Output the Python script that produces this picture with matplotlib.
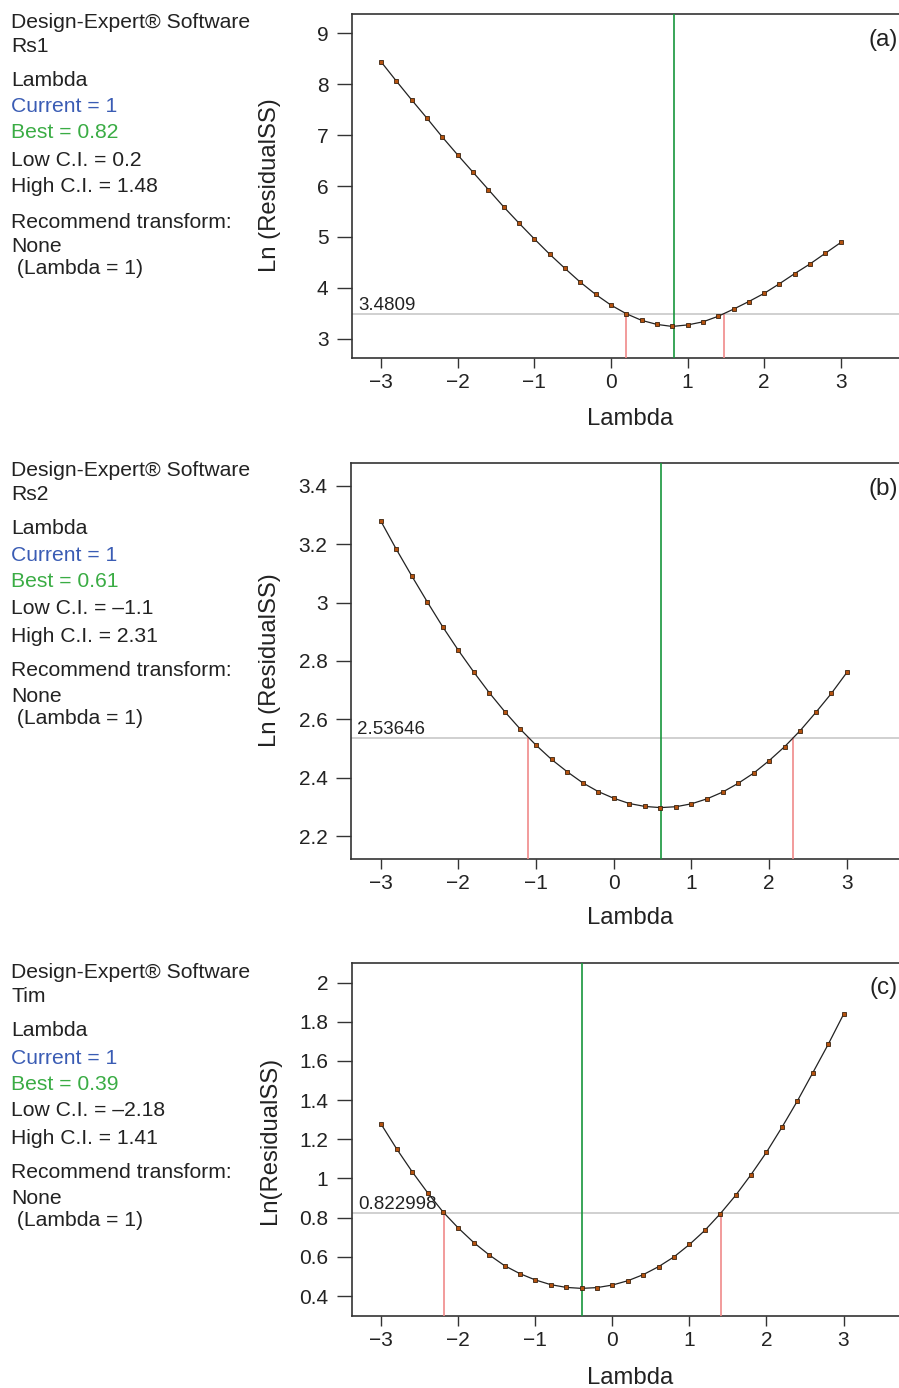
import numpy as np
import matplotlib
matplotlib.use("Agg")
import matplotlib.pyplot as plt

plt.rcParams['font.family'] = ['Liberation Sans', 'DejaVu Sans']

# lambda grid shared by all three Box-Cox plots
lam = [-3.0, -2.8, -2.6, -2.4, -2.2, -2.0, -1.8, -1.6, -1.4, -1.2, -1.0,
       -0.8, -0.6, -0.4, -0.2, 0.0, 0.2, 0.4, 0.6, 0.8, 1.0,
       1.2, 1.4, 1.6, 1.8, 2.0, 2.2, 2.4, 2.6, 2.8, 3.0]

ln_ss_a = [8.44, 8.06, 7.69, 7.33, 6.96, 6.61, 6.27, 5.93, 5.59, 5.27, 4.96,
           4.66, 4.38, 4.11, 3.87, 3.66, 3.49, 3.36, 3.28, 3.24, 3.27,
           3.33, 3.44, 3.58, 3.73, 3.89, 4.08, 4.28, 4.47, 4.68, 4.89]
ln_ss_b = [3.281, 3.184, 3.092, 3.003, 2.917, 2.837, 2.762, 2.691, 2.626, 2.566, 2.512,
           2.463, 2.421, 2.383, 2.353, 2.330, 2.312, 2.302, 2.298, 2.301, 2.311,
           2.328, 2.351, 2.381, 2.416, 2.459, 2.507, 2.562, 2.624, 2.689, 2.761]
ln_ss_c = [1.276, 1.151, 1.035, 0.928, 0.830, 0.747, 0.673, 0.610, 0.555, 0.514, 0.482,
           0.458, 0.444, 0.439, 0.443, 0.456, 0.478, 0.509, 0.550, 0.600, 0.663,
           0.735, 0.820, 0.914, 1.020, 1.134, 1.261, 1.395, 1.539, 1.684, 1.838]

responses = ['Rs1', 'Rs2', 'Tim']
best = [0.82, 0.61, -0.39]
best_text = ['0.82', '0.61', '0.39']
low_ci = [0.2, -1.1, -2.18]
high_ci = [1.48, 2.31, 1.41]
ci_level = [3.4809, 2.53646, 0.822998]
ci_text = ['3.4809', '2.53646', '0.822998']
panel = ['(a)', '(b)', '(c)']
ylabels = ['Ln (ResidualSS)', 'Ln (ResidualSS)', 'Ln(ResidualSS)']
yticks = [[3, 4, 5, 6, 7, 8, 9],
          [2.2, 2.4, 2.6, 2.8, 3.0, 3.2, 3.4],
          [0.4, 0.6, 0.8, 1.0, 1.2, 1.4, 1.6, 1.8, 2.0]]
yticklabels = [['3', '4', '5', '6', '7', '8', '9'],
               ['2.2', '2.4', '2.6', '2.8', '3', '3.2', '3.4'],
               ['0.4', '0.6', '0.8', '1', '1.2', '1.4', '1.6', '1.8', '2']]
ylims = [(2.62, 9.38), (2.122, 3.478), (0.298, 2.10)]
xlims = [(-3.38, 3.76), (-3.38, 3.67), (-3.38, 3.72)]
curves = [ln_ss_a, ln_ss_b, ln_ss_c]

W, H = 899, 1388
fig = plt.figure(figsize=(W / 100, H / 100), dpi=100)

# axes boxes in pixels: left, top, bottom
boxes = [(352, 14, 358), (351, 463, 859), (352, 963, 1316)]
offsets = [0, 449, 951]
label_y = [185, 660, 1140]
xlab_y = [419, 918, 1378]
letter_y = [40, 489, 988]

for i in range(3):
    l, t, b = boxes[i]
    ax = fig.add_axes([l / W, 1 - b / H, 1.0 - l / W, (b - t) / H])
    y = curves[i]
    ax.plot(lam, y, color='#222222', lw=0.9, zorder=4)
    ax.plot(lam, y, ls='none', marker='s', ms=3.2, mfc='#b5520f', mec='#3a2410',
            mew=0.6, zorder=5)

    ax.axhline(ci_level[i], color='#c8c8c8', lw=1.2, zorder=2)
    ax.axvline(best[i], color='#17963c', lw=1.2, zorder=3)
    for c in (low_ci[i], high_ci[i]):
        ax.plot([c, c], [ylims[i][0], ci_level[i]], color='#f08a8a', lw=1.2, zorder=3)

    ax.text(xlims[i][0] + 0.08, ci_level[i], ci_text[i], fontsize=13.5,
            color='#222222', ha='left', va='bottom')
    fig.text(898 / W, 1 - letter_y[i] / H, panel[i], fontsize=17.5,
             ha='right', va='center', color='#222222')

    ax.set_xlim(*xlims[i])
    ax.set_ylim(*ylims[i])
    ax.set_xticks([-3, -2, -1, 0, 1, 2, 3])
    ax.set_xticklabels(['\u22123', '\u22122', '\u22121', '0', '1', '2', '3'])
    ax.set_yticks(yticks[i])
    ax.set_yticklabels(yticklabels[i])
    ax.tick_params(axis='x', direction='out', length=7, width=1, pad=4,
                   labelsize=15, color='#333333', labelcolor='#222222')
    ax.tick_params(axis='y', direction='out', length=11, width=1, pad=6,
                   labelsize=15, color='#333333', labelcolor='#222222')
    for s in ['left', 'bottom', 'top']:
        ax.spines[s].set_color('#333333')
        ax.spines[s].set_linewidth(1.2)
    ax.spines['right'].set_visible(False)

    fig.text(270 / W, 1 - label_y[i] / H, ylabels[i], rotation=90, fontsize=17.2,
             ha='center', va='center', color='#222222')
    fig.text(630 / W, 1 - xlab_y[i] / H, 'Lambda', fontsize=17.2,
             ha='center', va='center', color='#222222')

    # side info block
    o = offsets[i]
    lines = [
        (22, 'Design-Expert\u00ae Software', '#222222', 11),
        (46, responses[i], '#222222', 11),
        (80, 'Lambda', '#222222', 11),
        (107, 'Current = 1', '#3a5cb4', 11),
        (133, 'Best = ' + best_text[i], '#3aac44', 11),
        (160, 'Low C.I. = ' + str(low_ci[i]).replace('-', '\u2013'), '#222222', 11),
        (187, 'High C.I. = ' + str(high_ci[i]), '#222222', 11),
        (222, 'Recommend transform:', '#222222', 11),
        (247, 'None', '#222222', 11),
        (269, ' (Lambda = 1)', '#222222', 11),
    ]
    for yy, txt, col, xx in lines:
        fig.text(xx / W, 1 - (yy + o) / H, txt, fontsize=15.2, color=col,
                 ha='left', va='center')

fig.savefig('out.png', dpi=100)
